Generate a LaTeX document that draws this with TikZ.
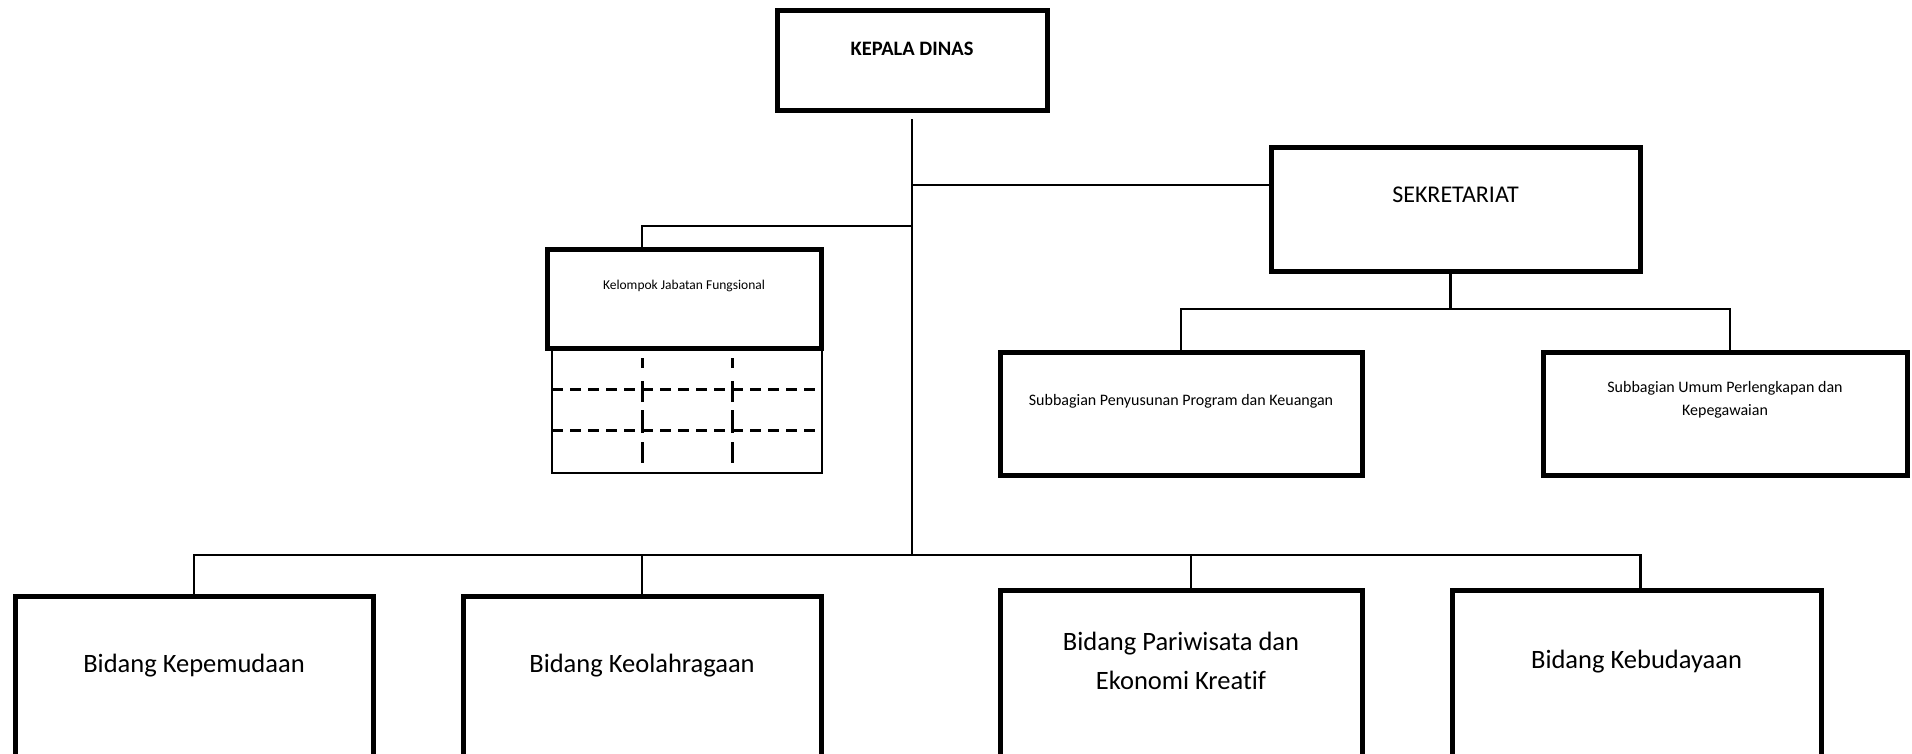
\documentclass[tikz,border=0pt]{standalone}
\usepackage{fontspec}
\setmainfont{Carlito}[Ligatures=NoCommon]
\usetikzlibrary{positioning,calc}

\begin{document}
\begin{tikzpicture}[
  x=1pt, y=-1pt,
  unit/.style={draw, line width=5pt, inner sep=0pt, outer sep=0pt},
  conn/.style={line width=2.5pt},
  cell/.style={line width=2pt},
  cellsep/.style={line width=3pt, dash pattern=on 11pt off 7pt},
  ttl/.style={anchor=center, align=center, inner sep=0pt},
  big/.style={font=\fontsize{26.5}{39}\selectfont},
  mid/.style={font=\fontsize{16}{23}\selectfont},
]
\clip (0,0) rectangle (1912,753);

% Kepala Dinas
\node[unit, minimum width=270pt, minimum height=100pt,
  label={[ttl, yshift=-39pt, font=\fontsize{20.5}{24}\selectfont\bfseries]north:KEPALA DINAS}] (kepala) at (912,60) {};

% Sekretariat and its subbagian
\node[unit, minimum width=369pt, minimum height=124pt,
  label={[ttl, yshift=-48pt, font=\fontsize{24}{28}\selectfont]north:SEKRETARIAT}] (sekr) at (1455.5,209) {};
\node[unit, minimum width=362pt, minimum height=123pt,
  label={[ttl, mid, yshift=-49pt]north:Subbagian Penyusunan Program dan Keuangan}] (subprog) at (1181,413.5) {};
\node[unit, minimum width=364pt, minimum height=123pt,
  label={[ttl, mid, yshift=-48pt]north:Subbagian Umum Perlengkapan dan\\Kepegawaian}] (subumum) at (1725,413.5) {};

% Kelompok Jabatan Fungsional
\node[unit, minimum width=274pt, minimum height=99pt,
  label={[ttl, yshift=-37pt, font=\fontsize{13.5}{16}\selectfont]north:Kelompok Jabatan Fungsional}] (kelompok) at (684,298.5) {};

% Bidang
\node[unit, minimum width=358pt, minimum height=220pt,
  label={[ttl, big, yshift=-70pt]north:Bidang Kepemudaan}] (kepemudaan) at (194,706) {};
\node[unit, minimum width=358pt, minimum height=220pt,
  label={[ttl, big, yshift=-70pt]north:Bidang Keolahragaan}] (keolah) at (642,706) {};
\node[unit, minimum width=362pt, minimum height=220pt,
  label={[ttl, big, yshift=-71pt]north:Bidang Pariwisata dan\\Ekonomi Kreatif}] (pariwisata) at (1181,700) {};
\node[unit, minimum width=369pt, minimum height=220pt,
  label={[ttl, big, yshift=-72pt]north:Bidang Kebudayaan}] (kebudayaan) at (1636.5,700) {};

% trunk
\coordinate (bus) at (912,555);
\draw[conn] ($(kepala.south)+(0,9)$) -- (bus);

% to Sekretariat
\coordinate (sekrin) at ($(sekr.west)+(0,-24)$);
\draw[conn] (kepala.south |- sekrin) -- (sekrin);
\coordinate (sekrbus) at ($(sekr.south)+(-5,38)$);
\draw[conn] (sekrbus |- sekr.south) -- (sekrbus);
\draw[conn] (subprog.north) |- (sekrbus) -| ($(subumum.north)+(5,0)$);

% to Kelompok
\coordinate (kjfin) at ($(kelompok.north)+(-42,-23)$);
\draw[conn] (kepala.south |- kjfin) -- (kjfin) -- ($(kelompok.north)+(-42,0)$);

% to Bidang
\draw[conn] (kepemudaan.north) |- (bus) -| ($(kebudayaan.north)+(4,0)$);
\draw[conn] (keolah.north) -- (keolah.north |- bus);
\draw[conn] ($(pariwisata.north)+(10,0)$) -- ($(pariwisata.north |- bus)+(10,0)$);

% Kelompok grid
\draw[cell] ($(kelompok.south west)+(5,2)$) |- ($(kelompok.south east)+(1,125)$) -- ($(kelompok.south east)+(1,2)$);
\foreach \dy in {41,82}
  \draw[cellsep] ($(kelompok.south west)+(5,\dy)$) -- ($(kelompok.south east)+(1,\dy)$);
\foreach \dx in {95,185}
  \draw[cellsep, dash pattern=on 10pt off 13pt on 21pt off 8pt on 23pt off 9pt on 21pt off 5pt]
    ($(kelompok.south west)+(\dx,10)$) -- ++(0,105);

\end{tikzpicture}
\end{document}
